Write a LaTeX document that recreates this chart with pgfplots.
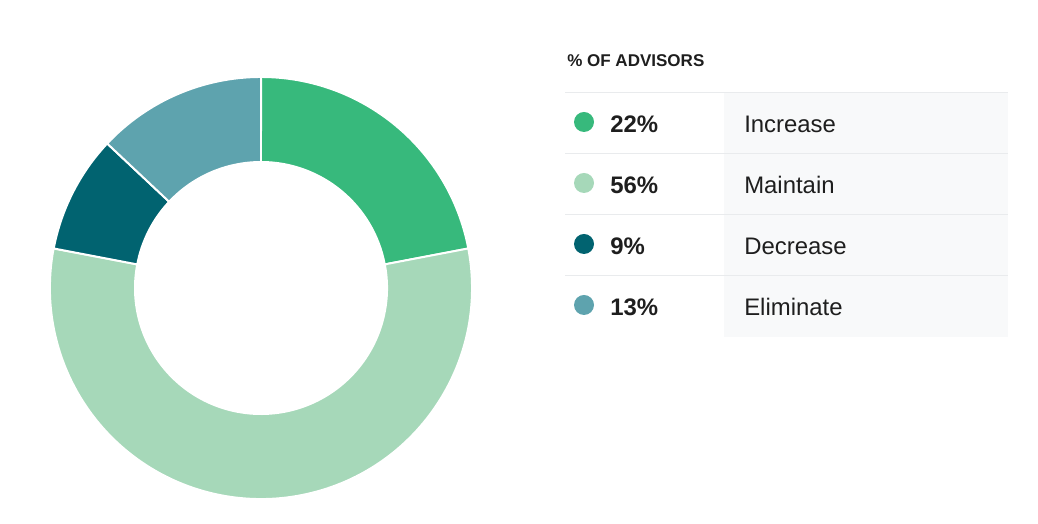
\documentclass[border=0pt]{standalone}
\usepackage{pgfplots}
\pgfplotsset{compat=1.18}
\usepackage{pgfplotstable}
\usepackage{fontspec}
\setmainfont{Liberation Sans}

\definecolor{cInc}{HTML}{37B97C}
\definecolor{cMai}{HTML}{A6D8B9}
\definecolor{cDec}{HTML}{016370}
\definecolor{cEli}{HTML}{5EA3AE}
\definecolor{ink}{HTML}{1E1E1E}
\definecolor{cRule}{HTML}{E9EBED}
\definecolor{cBack}{HTML}{F8F9FA}

% share of advisors, in %
\pgfplotstableread{
label value color
Increase 22 cInc
Maintain 56 cMai
Decrease 9 cDec
Eliminate 13 cEli
}\advisors

\begin{document}
\begin{tikzpicture}
% start and end angle of each slice, clockwise from the top
\gdef\acc{0}
\foreach \i in {0,1,2,3}{%
  \pgfplotstablegetelem{\i}{value}\of\advisors
  \let\v\pgfplotsretval
  \pgfmathsetmacro\a{90-3.6*\acc}%
  \pgfmathsetmacro\b{90-3.6*(\acc+\v)}%
  \expandafter\xdef\csname sa\i\endcsname{\a}%
  \expandafter\xdef\csname ea\i\endcsname{\b}%
  \expandafter\xdef\csname va\i\endcsname{\v}%
  \pgfplotstablegetelem{\i}{color}\of\advisors
  \expandafter\xdef\csname co\i\endcsname{\pgfplotsretval}%
  \pgfplotstablegetelem{\i}{label}\of\advisors
  \expandafter\xdef\csname la\i\endcsname{\pgfplotsretval}%
  \pgfmathsetmacro\n{\acc+\v}\xdef\acc{\n}%
}
\begin{axis}[
    x=0.025cm, y=0.025cm,
    xmin=0, xmax=1038, ymin=0, ymax=524,
    hide axis, clip=false,
    anchor=origin, at={(0,0)},
]
\path (axis cs:0,0) (axis cs:1038,524);
% donut: centre (261,236), radii 211 and 126 (1 unit = 0.025cm)
\pgfplotsinvokeforeach{0,1,2,3}{
  \edef\tmp{\noexpand\filldraw[fill=\csname co#1\endcsname, draw=white, line width=1.4pt, line join=miter]
    (axis cs:{261+211*cos(\csname sa#1\endcsname)},{236+211*sin(\csname sa#1\endcsname)})
    arc[start angle=\csname sa#1\endcsname, end angle=\csname ea#1\endcsname, radius=5.275cm]
    -- (axis cs:{261+126*cos(\csname ea#1\endcsname)},{236+126*sin(\csname ea#1\endcsname)})
    arc[start angle=\csname ea#1\endcsname, end angle=\csname sa#1\endcsname, radius=3.15cm]
    -- cycle;}\tmp
}
% legend table
\fill[cBack] (axis cs:724,431) rectangle (axis cs:1008,187);
\node[anchor=base west, inner sep=0, font=\fontsize{12.1}{14}\selectfont\bfseries, text=ink]
  at (axis cs:567,457) {\% OF ADVISORS};
\pgfplotsinvokeforeach{0,1,2,3}{
  \draw[cRule, line width=0.7pt] (axis cs:565,{431-61*#1}) -- (axis cs:1008,{431-61*#1});
  \edef\tmp{\noexpand\fill[\csname co#1\endcsname] (axis cs:584,{402-61*#1}) circle[radius=0.25cm];
    \noexpand\node[anchor=base west, inner sep=0, text=ink, font=\noexpand\fontsize{17}{20}\noexpand\selectfont\noexpand\bfseries]
      at (axis cs:610,{391-61*#1}) {\csname va#1\endcsname\noexpand\%};
    \noexpand\node[anchor=base west, inner sep=0, text=ink, font=\noexpand\fontsize{17}{20}\noexpand\selectfont]
      at (axis cs:744,{391-61*#1}) {\csname la#1\endcsname};}\tmp
}
\end{axis}
\end{tikzpicture}
\end{document}
